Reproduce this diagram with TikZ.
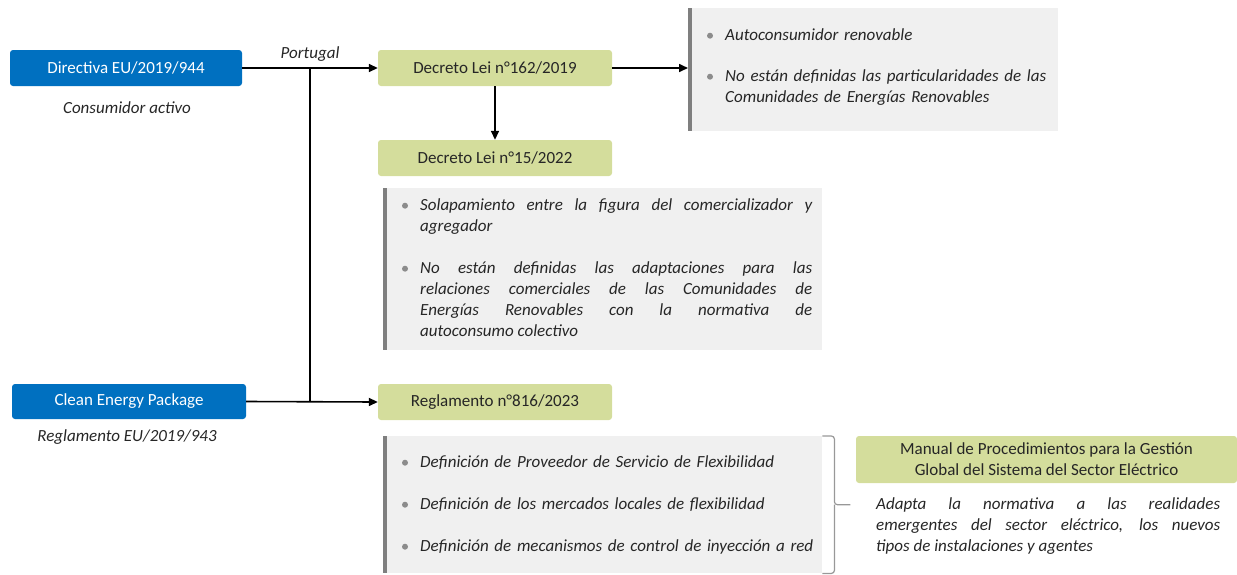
\documentclass[tikz,border=0pt]{standalone}
\usepackage{fontspec}
\setmainfont{Carlito}
\usetikzlibrary{arrows.meta,calc,positioning}
\definecolor{epblue}{HTML}{0070C0}
\definecolor{decgreen}{HTML}{D4DD9C}
\definecolor{panelgray}{HTML}{F0F0F0}
\definecolor{bargray}{HTML}{7F7F7F}
\definecolor{dotgray}{HTML}{8C8C8C}
\definecolor{txtgray}{HTML}{262626}
\hyphenpenalty=10000
\exhyphenpenalty=10000
\tikzset{
  norma/.style={rectangle, rounded corners=3pt, fill=epblue, text=white,
    minimum width=232pt, minimum height=36pt, inner sep=0pt,
    font=\fontsize{17}{21}\selectfont},
  decreto/.style={norma, fill=decgreen, text=txtgray, minimum width=234pt},
  nota/.style={inner sep=0pt, text=txtgray, font=\fontsize{17}{21}\selectfont\itshape},
  panel/.style={rectangle, fill=panelgray, inner sep=0pt, anchor=north west},
  punto/.style={nota, anchor=north west, execute at begin node=\strut},
  flecha/.style={-{Triangle[length=9pt,width=8pt]}, line width=1.6pt},
  llave/.style={bargray!80, line width=1.2pt, rounded corners=3pt},
}
\begin{document}
\begin{tikzpicture}[x=1pt, y=-1pt]
\useasboundingbox (0,0) rectangle (1237,574);

% panels
\node[panel, minimum width=370pt, minimum height=123pt] (p1) at (688,8) {};
\node[panel, minimum width=439pt, minimum height=162pt] (p2) at (383,188) {};
\node[panel, minimum width=439pt, minimum height=137pt] (p3) at (383,436) {};
\foreach \p in {p1,p2,p3}
  \draw[bargray, line width=4pt] ([xshift=2pt]\p.north west) -- ([xshift=2pt]\p.south west);

% blue boxes
\node[norma] (dir) at (126,68) {Directiva EU/2019/944};
\node[nota] (ca) at (127,108) {Consumidor activo};
\node[norma, minimum width=234pt, minimum height=35pt] (cep) at (129,401.5) {Clean Energy Package};
\node[nota] (reu) at (127,437) {Reglamento EU/2019/943};

% green boxes
\node[decreto] (d162) at (495,68) {Decreto Lei n°162/2019};
\node[decreto] (d15) at (495,158) {Decreto Lei n°15/2022};
\node[decreto] (reg) at (495,402) {Reglamento n°816/2023};
\node[decreto, align=center, minimum width=381pt, minimum height=47pt] (man) at (1046.5,459.5)
  {Manual de Procedimientos para la Gestión\\Global del Sistema del Sector Eléctrico};

% bullet texts
\node[punto, text width=335pt, align=left] (a1) at (725,25.7) {Autoconsumidor renovable};
\node[punto, text width=335pt, align=left] (a2) at (725,66.7)
  {No están definidas las particularidades de las\\Comunidades de Energías Renovables};
\node[punto, text width=392pt, align=justify] (b1) at (420,195.7)
  {Solapamiento entre la figura del comercializador y\linebreak agregador};
\node[punto, text width=392pt, align=justify] (b2) at (420,258.7)
  {No están definidas las adaptaciones para las\linebreak relaciones comerciales de las Comunidades de\linebreak Energías Renovables con la normativa de\linebreak autoconsumo colectivo};
\node[punto, text width=405pt, align=left] (c1) at (420,452.7) {Definición de Proveedor de Servicio de Flexibilidad};
\node[punto, text width=405pt, align=left] (c2) at (420,494.7) {Definición de los mercados locales de flexibilidad};
\node[punto, text width=405pt, align=left] (c3) at (420,536.7) {Definición de mecanismos de control de inyección a red};
\foreach \b in {a1,a2,b1,b2,c1,c2,c3}
  \fill[dotgray] ($(\b.north west)+(-15,10)$) circle (3pt);
\node[punto, text width=344pt, align=justify] (mt) at (876,494.7)
  {Adapta la normativa a las realidades\linebreak emergentes del sector eléctrico, los nuevos\linebreak tipos de instalaciones y agentes};

% connectors
\coordinate (jt) at ($(dir.east)!0.5!(d162.west)$);
\draw[flecha] (dir.east) -- node[nota, above=6pt] {Portugal} (d162.west);
\draw[line width=1.6pt] (jt) -- (jt |- cep.east);
\draw[flecha] (cep.east) -- (reg.west);
\draw[flecha] (d162.east) -- (d162.east -| p1.west);
\draw[flecha] (d162.south) -- (d15.north);

% brace
\draw[llave] (p3.north east) -- ++(12,0) coordinate (bt) -- (bt |- p3.east) coordinate (bm) -- ++(16,0);
\draw[llave] (bm) -- (bm |- p3.south east) -- (p3.south east);
\end{tikzpicture}
\end{document}
